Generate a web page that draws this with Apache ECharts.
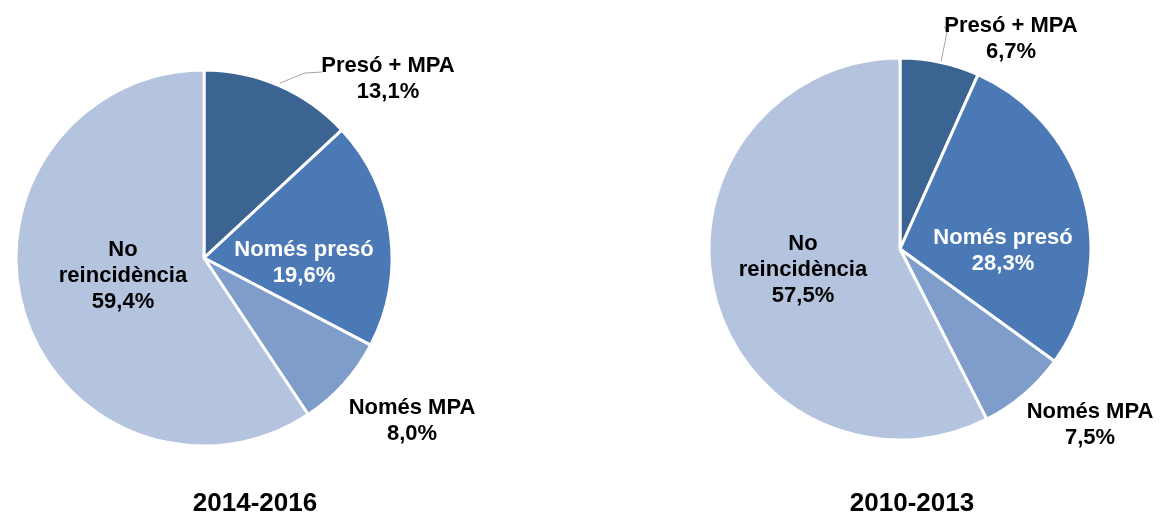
<!DOCTYPE html>
<html>
<head>
<meta charset="utf-8">
<script src="https://cdn.jsdelivr.net/npm/echarts@6/dist/echarts.min.js"></script>
<style>
  html, body { margin: 0; padding: 0; background: #fff; }
  #chart { width: 1160px; height: 514px; }
</style>
</head>
<body>
<div id="chart"></div>
<script>
// categories and values
var categories = ['Presó + MPA', 'Només presó', 'Només MPA', 'No reincidència'];
var labelNames = ['Presó + MPA', 'Només presó', 'Només MPA', 'No\nreincidència'];
var values2014 = [13.1, 19.6, 8.0, 59.4];
var values2010 = [6.7, 28.3, 7.5, 57.5];
var periods = ['2014-2016', '2010-2013'];

var colors = ['#3c6493', '#4a79b5', '#7f9dca', '#b4c3de'];

// label block centres per slice (layout only)
var labelPos = [
	[[388, 79], [304, 263], [412, 421], [123, 276]],
	[[1011, 39], [1003, 251], [1090, 425], [803, 270]]
];
var linePts = [
	[[280, 83], [305, 73], [322, 72]],
	[[941, 62], [947, 32], [944, 26]]
];

function buildData(vals) {
	var out = [];
	for (var i = 0; i < vals.length; i++) {
		out.push({
			name: categories[i],
			value: vals[i],
			itemStyle: { color: colors[i] },
			label: { color: i === 1 ? '#fff' : '#000' },
			labelLine: { show: i === 0 }
		});
	}
	return out;
}

function fmt(p) {
	return labelNames[p.dataIndex] + '\n' + p.value.toFixed(1).replace('.', ',') + '%';
}

function makeSeries(vals, center, radius, idx) {
	return {
		type: 'pie',
		center: center,
		radius: radius,
		startAngle: 90,
		clockwise: true,
		animation: false,
		silent: true,
		avoidLabelOverlap: false,
		itemStyle: { borderColor: '#fff', borderWidth: 3 },
		label: {
			show: true,
			formatter: fmt,
			overflow: 'none',
			fontFamily: 'Liberation Sans, Arial, sans-serif',
			fontWeight: 'bold',
			fontSize: 22,
			lineHeight: 26,
			align: 'center'
		},
		labelLine: {
			show: false,
			lineStyle: { color: '#a6a6a6', width: 1 }
		},
		labelLayout: function(params) {
			var p = labelPos[idx][params.dataIndex];
			var r = {
				x: p[0],
				y: p[1],
				align: 'center',
				verticalAlign: 'middle',
				hideOverlap: false
			};
			if (params.dataIndex === 0) {
				r.labelLinePoints = linePts[idx];
			}
			return r;
		},
		data: buildData(vals)
	};
}

var titleStyle = { fontFamily: 'Liberation Sans, Arial, sans-serif', fontWeight: 'bold', fontSize: 26, color: '#000' };

var myChart = echarts.init(document.getElementById('chart'));
var option = {
	backgroundColor: '#fff',
	title: [{
		text: periods[0],
		left: 250,
		top: 486,
		textAlign: 'center',
		textStyle: titleStyle
	}, {
		text: periods[1],
		left: 907,
		top: 486,
		textAlign: 'center',
		textStyle: titleStyle
	}],
	series: [
		makeSeries(values2014, [204, 258], 188, 0),
		makeSeries(values2010, [900, 249], 191, 1)
	]
};
myChart.setOption(option);
</script>
</body>
</html>
